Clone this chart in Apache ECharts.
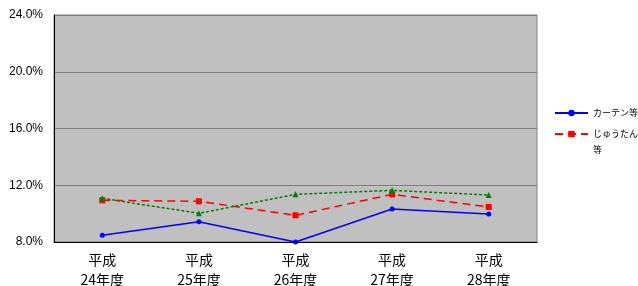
<!DOCTYPE html>
<html>
<head>
    <meta charset="utf-8">
    <title>Chart</title>
    <script src="https://cdn.jsdelivr.net/npm/echarts@6/dist/echarts.min.js"></script>
</head>
<body style="margin:0;">
    <div id="main" style="width: 638px; height:286px;"></div>

    <script type="text/javascript">
        var categories = ['平成\n24年度', '平成\n25年度', '平成\n26年度', '平成\n27年度', '平成\n28年度'];
        var curtain = [8.47, 9.43, 8.0, 10.33, 9.97];
        var carpet = [10.94, 10.87, 9.88, 11.36, 10.47];
        var other = [11.08, 10.02, 11.36, 11.64, 11.31];

        var chart = echarts.init(document.getElementById('main'));
        chart.setOption({
            backgroundColor: '#fff',
            animation: false,
            grid: {
                left: 54, top: 15, width: 483, height: 227,
                outerBoundsMode: 'none',
                containLabel: false,
                show: true,
                backgroundColor: '#c0c0c0',
                borderColor: '#808080',
                borderWidth: 1
            },
            legend: {
                orient: 'vertical',
                left: 554,
                top: 105,
                padding: 0,
                itemWidth: 33,
                itemHeight: 8,
                itemGap: -11,
                data: ['カーテン等', 'じゅうたん等'],
                formatter: function (name) {
                    return name === 'じゅうたん等' ? '\nじゅうたん\n等' : name;
                },
                textStyle: {
                    fontSize: 9,
                    lineHeight: 16,
                    color: '#000',
                    fontFamily: 'Noto Sans CJK JP'
                }
            },
            xAxis: {
                type: 'category',
                data: categories,
                boundaryGap: true,
                axisLine: { lineStyle: { color: '#000', width: 1 } },
                axisTick: { show: false },
                axisLabel: {
                    color: '#000',
                    fontSize: 14,
                    lineHeight: 20,
                    margin: 8,
                    fontFamily: 'Noto Sans CJK JP'
                }
            },
            yAxis: {
                type: 'value',
                min: 8,
                max: 24,
                interval: 4,
                axisLine: { show: true, lineStyle: { color: '#000', width: 1 } },
                axisTick: { show: false },
                splitLine: { lineStyle: { color: '#808080', width: 1 } },
                axisLabel: {
                    color: '#000',
                    fontSize: 12,
                    margin: 11,
                    fontFamily: 'Liberation Sans',
                    formatter: function (v) { return v.toFixed(1) + '%'; }
                }
            },
            series: [
                {
                    name: 'カーテン等',
                    type: 'line',
                    data: curtain,
                    symbol: 'circle',
                    symbolSize: 5,
                    clip: false,
                    itemStyle: { color: '#0000ff' },
                    lineStyle: { color: '#0000ff', width: 1.5 }
                },
                {
                    name: 'じゅうたん等',
                    type: 'line',
                    data: carpet,
                    symbol: 'rect',
                    symbolSize: 6,
                    itemStyle: { color: '#ff0000' },
                    lineStyle: { color: '#ff0000', width: 1.5, type: [8, 5] }
                },
                {
                    name: 'その他',
                    type: 'line',
                    data: other,
                    symbol: 'triangle',
                    symbolSize: 6,
                    itemStyle: { color: '#008000' },
                    lineStyle: { color: '#008000', width: 1.5, type: [3, 2] }
                }
            ]
        });
    </script>
</body>
</html>
